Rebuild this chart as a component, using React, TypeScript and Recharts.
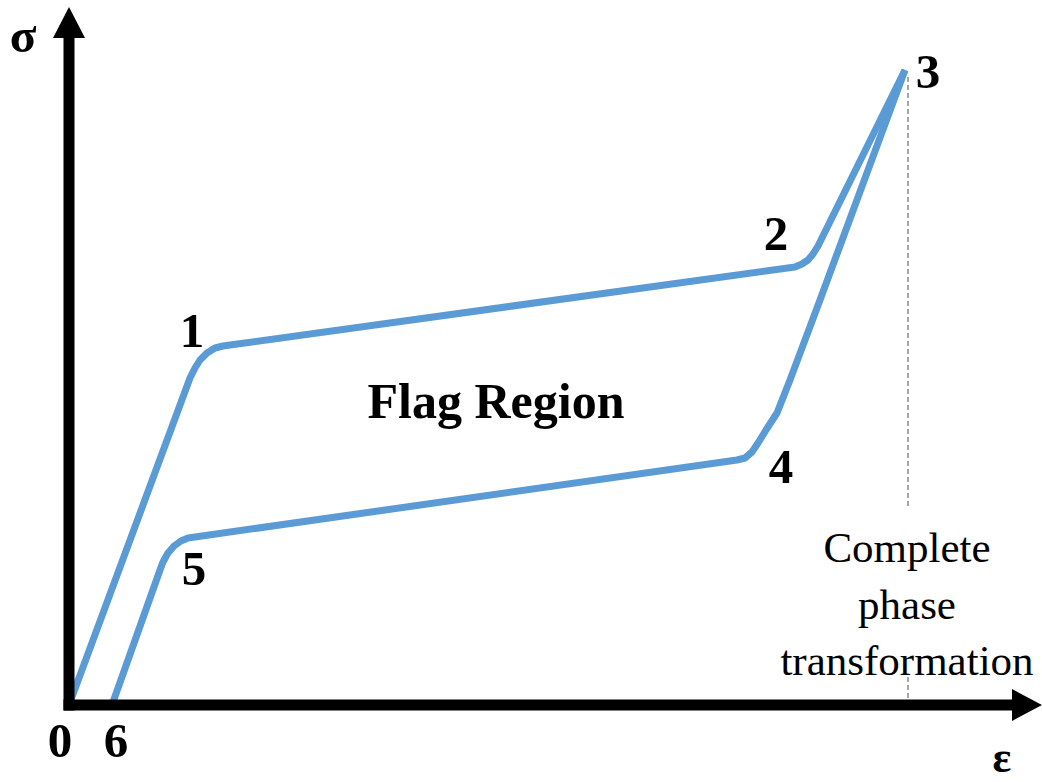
import React from "react";
import {
  LineChart,
  Line,
  XAxis,
  YAxis,
  ReferenceLine,
  ReferenceDot,
  Customized,
} from "recharts";

// strain / stress in arbitrary units
const loading = [
  { x: 0, y: 0 },
  { x: 12.1, y: 32.7 },
  { x: 12.6, y: 33.7 },
  { x: 13.1, y: 34.5 },
  { x: 13.8, y: 35.2 },
  { x: 14.6, y: 35.7 },
  { x: 15.4, y: 35.9 },
  { x: 16.1, y: 36.0 },
  { x: 72.6, y: 43.8 },
  { x: 73.3, y: 44.1 },
  { x: 73.9, y: 44.5 },
  { x: 74.4, y: 45.1 },
  { x: 74.9, y: 45.9 },
  { x: 83.6, y: 63.5 },
];

const unloading = [
  { x: 4.3, y: 0 },
  { x: 9.1, y: 13.5 },
  { x: 9.4, y: 14.3 },
  { x: 9.9, y: 15.2 },
  { x: 10.5, y: 15.9 },
  { x: 11.2, y: 16.4 },
  { x: 11.9, y: 16.7 },
  { x: 12.6, y: 16.8 },
  { x: 66.8, y: 24.5 },
  { x: 67.6, y: 24.7 },
  { x: 68.3, y: 25.3 },
  { x: 68.9, y: 26.2 },
  { x: 69.7, y: 27.5 },
  { x: 70.8, y: 29.2 },
  { x: 72.1, y: 32.5 },
  { x: 75.1, y: 40.5 },
  { x: 83.6, y: 63.5 },
];

const xMax = 97.3;
const yMax = 69.8;
const phaseX = 83.9;

const pointLabels = [
  { text: "1", x: 192, y: 347 },
  { text: "2", x: 776, y: 250 },
  { text: "3", x: 928, y: 88 },
  { text: "4", x: 781, y: 483 },
  { text: "5", x: 194, y: 585 },
  { text: "0", x: 60, y: 757 },
  { text: "6", x: 116, y: 757 },
];

const noteLines = ["Complete", "phase", "transformation"];

const BLUE = "#5B9BD5";
const serif = "'Liberation Serif', 'Times New Roman', serif";

function Annotations() {
  return (
    <g fontFamily={serif} fill="#000">
      {pointLabels.map((p) => (
        <text key={p.text} x={p.x} y={p.y} fontSize={49} fontWeight="bold" textAnchor="middle">
          {p.text}
        </text>
      ))}
      <text x={23} y={52} fontSize={49} fontWeight="bold" textAnchor="middle">
        σ
      </text>
      <text x={1002} y={772} fontSize={44} fontWeight="bold" textAnchor="middle">
        ε
      </text>
      <text x={496} y={418} fontSize={50} fontWeight="bold" textAnchor="middle">
        Flag Region
      </text>
      {noteLines.map((t, i) => (
        <text key={t} x={907} y={562 + i * 56.5} fontSize={43} textAnchor="middle">
          {t}
        </text>
      ))}
    </g>
  );
}

export default function App() {
  return (
    <div style={{ position: "absolute", left: 0, top: 0, background: "#fff" }}>
      <LineChart
        width={1042}
        height={782}
        margin={{ top: 7, right: 0, bottom: 77, left: 69 }}
      >
        <XAxis type="number" dataKey="x" domain={[0, xMax]} allowDataOverflow hide />
        <YAxis type="number" domain={[0, yMax]} allowDataOverflow hide />

        <ReferenceLine
          segment={[{ x: phaseX, y: 62.8 }, { x: phaseX, y: 19.8 }]}
          stroke="#777"
          strokeWidth={1.3}
          strokeDasharray="5 3"
          ifOverflow="visible"
        />
        <ReferenceLine
          segment={[{ x: phaseX, y: 2.8 }, { x: phaseX, y: 0 }]}
          stroke="#777"
          strokeWidth={1.3}
          strokeDasharray="5 3"
          ifOverflow="visible"
        />

        <Line
          data={loading}
          dataKey="y"
          type="linear"
          stroke={BLUE}
          strokeWidth={7}
          strokeLinejoin="round"
          dot={false}
          activeDot={false}
          isAnimationActive={false}
        />
        <Line
          data={unloading}
          dataKey="y"
          type="linear"
          stroke={BLUE}
          strokeWidth={7}
          strokeLinejoin="round"
          dot={false}
          activeDot={false}
          isAnimationActive={false}
        />

        {/* axes with arrow heads */}
        <ReferenceLine
          segment={[{ x: -0.55, y: 0 }, { x: 94.4, y: 0 }]}
          stroke="#000"
          strokeWidth={11}
          ifOverflow="visible"
        />
        <ReferenceLine
          segment={[{ x: 0, y: -0.55 }, { x: 0, y: 66.7 }]}
          stroke="#000"
          strokeWidth={11}
          ifOverflow="visible"
        />
        <ReferenceDot
          x={0}
          y={yMax}
          r={0}
          ifOverflow="visible"
          shape={(p: any) => (
            <polygon
              points={`${p.cx},${p.cy} ${p.cx - 16},${p.cy + 31} ${p.cx + 16},${p.cy + 31}`}
              fill="#000"
            />
          )}
        />
        <ReferenceDot
          x={xMax}
          y={0}
          r={0}
          ifOverflow="visible"
          shape={(p: any) => (
            <polygon
              points={`${p.cx},${p.cy} ${p.cx - 30},${p.cy - 16} ${p.cx - 30},${p.cy + 16}`}
              fill="#000"
            />
          )}
        />

        <Customized component={Annotations} />
      </LineChart>
    </div>
  );
}
